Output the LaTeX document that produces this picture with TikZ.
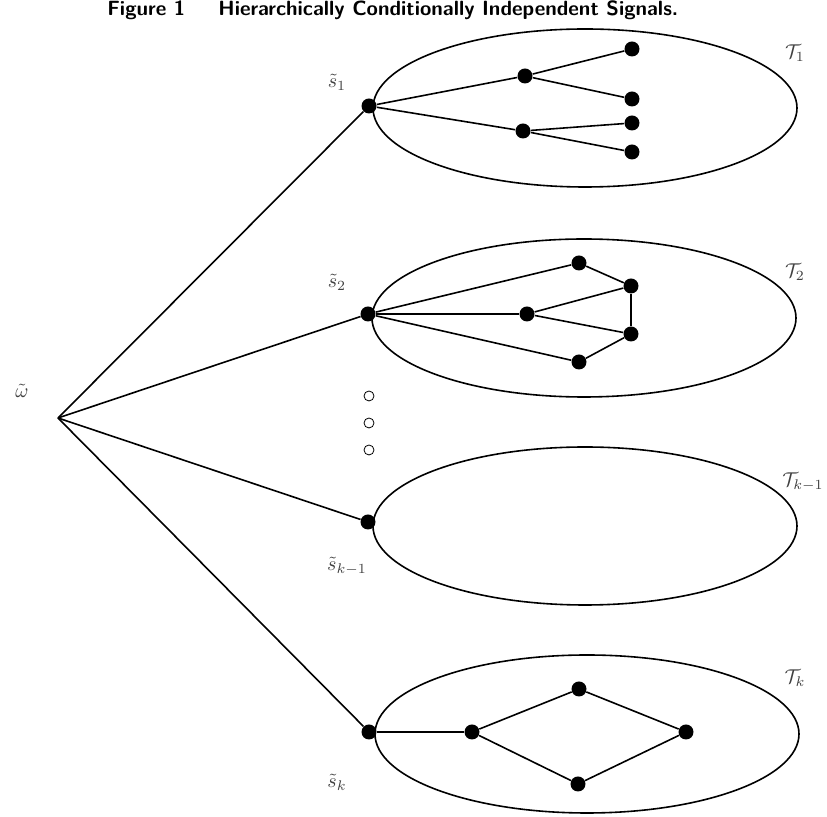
\documentclass[tikz,border=0pt]{standalone}
\usetikzlibrary{shapes.geometric}
\begin{document}
\begin{tikzpicture}[x=0.5pt,y=-0.5pt,
  dot/.style={circle,fill=black,draw=none,inner sep=0pt,minimum size=7.5pt},
  hollow/.style={circle,draw=black,line width=0.4pt,inner sep=0pt,minimum size=5pt},
  blob/.style={ellipse,draw,line width=0.8pt,minimum width=212pt,minimum height=79pt,inner sep=0pt},
  lbl/.style={text=black!75,inner sep=0pt},
  edge/.style={line width=0.8pt},
  ttl/.style={font=\fontsize{10.3}{12}\selectfont\sffamily\bfseries,anchor=base west,inner sep=0pt}]
\useasboundingbox (0,0) rectangle (827,817);

% caption
\node[ttl] (fig) at (107,16) {Figure 1};
\node[ttl] (cap) at (218,16) {Hierarchically Conditionally Independent Signals.};

% the four tree regions
\node[blob] (e1) at (585,108) {};
\node[blob] (e2) at (584,318) {};
\node[blob] (e3) at (585,526) {};
\node[blob] (e4) at (587,734) {};

% common source
\coordinate (w) at (58,418);
\node[lbl] (wl) at (22,391) {$\tilde{\omega}$};

% roots of the trees
\node[dot] (r1) at (369,106) {};
\node[dot] (r2) at (368,314) {};
\node[dot] (r3) at (368,522) {};
\node[dot] (r4) at (369,732) {};

\draw[edge] (w) -- (r1);
\draw[edge] (w) -- (r2);
\draw[edge] (w) -- (r3);
\draw[edge] (w) -- (r4);

% root labels
\node[lbl] (s1) at (337,82) {$\tilde{s}_1$};
\node[lbl] (s2) at (337,282) {$\tilde{s}_2$};
\node[lbl] (s3) at (347,566) {$\tilde{s}_{k-1}$};
\node[lbl] (s4) at (337,782) {$\tilde{s}_k$};

% region labels
\node[lbl] (t1) at (795,53) {$\mathcal{T}_1$};
\node[lbl] (t2) at (795,272) {$\mathcal{T}_2$};
\node[lbl] (t3) at (803,482) {$\mathcal{T}_{k-1}$};
\node[lbl] (t4) at (795,678) {$\mathcal{T}_k$};

% tree 1
\node[dot] (a1) at (525,76) {};
\node[dot] (a2) at (523,131) {};
\node[dot] (a3) at (632,49) {};
\node[dot] (a4) at (632,99) {};
\node[dot] (a5) at (632,123) {};
\node[dot] (a6) at (632,152) {};
\draw[edge] (r1) -- (a1);
\draw[edge] (r1) -- (a2);
\draw[edge] (a1) -- (a3);
\draw[edge] (a1) -- (a4);
\draw[edge] (a2) -- (a5);
\draw[edge] (a2) -- (a6);

% tree 2
\node[dot] (b1) at (579,263) {};
\node[dot] (b2) at (527,314) {};
\node[dot] (b3) at (579,362) {};
\node[dot] (b4) at (631,286) {};
\node[dot] (b5) at (631,334) {};
\draw[edge] (r2) -- (b1);
\draw[edge] (r2) -- (b2);
\draw[edge] (r2) -- (b3);
\draw[edge] (b1) -- (b4);
\draw[edge] (b2) -- (b4);
\draw[edge] (b2) -- (b5);
\draw[edge] (b4) -- (b5);
\draw[edge] (b5) -- (b3);

% omitted trees
\node[hollow] (o1) at (369,396) {};
\node[hollow] (o2) at (369,423) {};
\node[hollow] (o3) at (369,450) {};

% tree k
\node[dot] (c1) at (472,732) {};
\node[dot] (c2) at (579,689) {};
\node[dot] (c3) at (578,784) {};
\node[dot] (c4) at (686,732) {};
\draw[edge] (r4) -- (c1);
\draw[edge] (c1) -- (c2);
\draw[edge] (c1) -- (c3);
\draw[edge] (c2) -- (c4);
\draw[edge] (c3) -- (c4);
\end{tikzpicture}
\end{document}
